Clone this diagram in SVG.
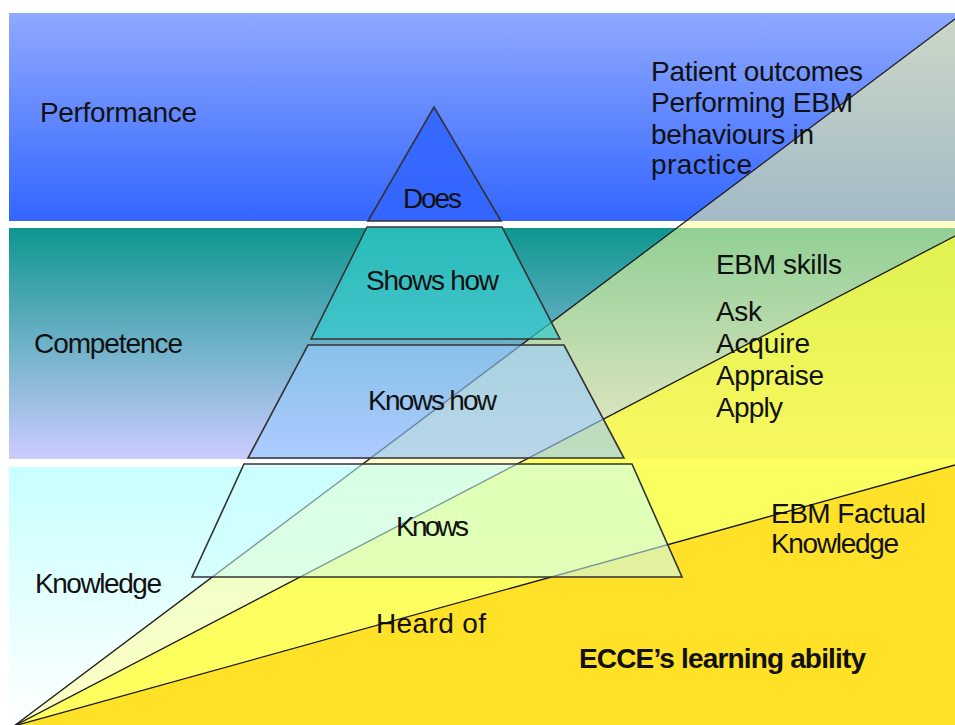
<svg xmlns="http://www.w3.org/2000/svg" width="955" height="725" viewBox="0 0 955 725">
<defs>
<linearGradient id="gPerf" x1="0" y1="0" x2="0" y2="1"><stop offset="0" stop-color="#8FA9FF"/><stop offset="1" stop-color="#3366FF"/></linearGradient>
<linearGradient id="gComp" x1="0" y1="0" x2="0" y2="1"><stop offset="0" stop-color="#0E9690"/><stop offset="1" stop-color="#CCCCFF"/></linearGradient>
<linearGradient id="gKnow" x1="0" y1="0" x2="0" y2="1"><stop offset="0" stop-color="#C8FFFF"/><stop offset="1" stop-color="#FFFFFF"/></linearGradient>
</defs>
<style>
.t{font-family:"Liberation Sans",Arial,sans-serif;font-size:28px;fill:#111;}
.b{font-weight:bold;}
.wl{stroke:#1a1a1a;stroke-width:1.3;fill:none;}
.py{stroke:#333;stroke-width:1.6;stroke-linejoin:miter;}
</style>
<rect width="955" height="725" fill="#FFFFFF"/>
<g id="bands">
<rect x="9" y="13" width="946" height="208" fill="url(#gPerf)"/>
<rect x="9" y="228" width="946" height="231" fill="url(#gComp)"/>
<rect x="9" y="467" width="946" height="258" fill="url(#gKnow)"/>
</g>
<g id="wedges">
<polygon points="14,726 955,19 955,725" fill="#FFFF99" fill-opacity="0.55"/>
<polygon points="14,726 955,236 955,725" fill="#FFFF33" fill-opacity="0.7"/>
<polygon points="14,726 955,465 955,725" fill="#FFD91A" fill-opacity="0.8"/>
</g>
<g id="connectors">
<line class="wl" x1="14" y1="726" x2="955" y2="19"/>
<line class="wl" x1="14" y1="726" x2="955" y2="236"/>
<line class="wl" x1="14" y1="726" x2="955" y2="465"/>
</g>
<g id="does">
<polygon class="py" points="434,107 501,221 368,221" fill="#3366FF" fill-opacity="0.9"/>
<text class="t" x="432.5" y="208" text-anchor="middle" textLength="59">Does</text>
</g>
<g id="shows-how">
<polygon class="py" points="367,227 502,227 560,339 311,339" fill="#33CCCC" fill-opacity="0.7"/>
<text class="t" x="432.5" y="290" text-anchor="middle" textLength="133">Shows how</text>
</g>
<g id="knows-how">
<polygon class="py" points="308,345 564,345 624,458 248,458" fill="#99CCFF" fill-opacity="0.6"/>
<text class="t" x="432.5" y="410" text-anchor="middle" textLength="129">Knows how</text>
</g>
<g id="knows">
<polygon class="py" points="244,464 632,464 682,577 192,577" fill="#CCFFFF" fill-opacity="0.55"/>
<text class="t" x="432.5" y="536" text-anchor="middle" textLength="73">Knows</text>
</g>
<g id="labels">
<text class="t" x="40" y="122" textLength="157">Performance</text>
<text class="t" x="34" y="353" textLength="149">Competence</text>
<text class="t" x="35" y="593" textLength="127">Knowledge</text>
<text class="t" x="651" y="81" textLength="212">Patient outcomes</text>
<text class="t" x="651" y="112" textLength="202">Performing EBM</text>
<text class="t" x="651" y="144" textLength="163">behaviours in</text>
<text class="t" x="651" y="174" textLength="101">practice</text>
<text class="t" x="716" y="274" textLength="126">EBM skills</text>
<text class="t" x="716" y="321" textLength="46">Ask</text>
<text class="t" x="716" y="353" textLength="94">Acquire</text>
<text class="t" x="716" y="385" textLength="108">Appraise</text>
<text class="t" x="716" y="417" textLength="67">Apply</text>
<text class="t" x="771" y="523" textLength="155">EBM Factual</text>
<text class="t" x="771" y="553" textLength="128">Knowledge</text>
<text class="t" x="376" y="633" textLength="110">Heard of</text>
<text class="t b" x="579" y="668" textLength="287">ECCE’s learning ability</text>
</g>
</svg>
